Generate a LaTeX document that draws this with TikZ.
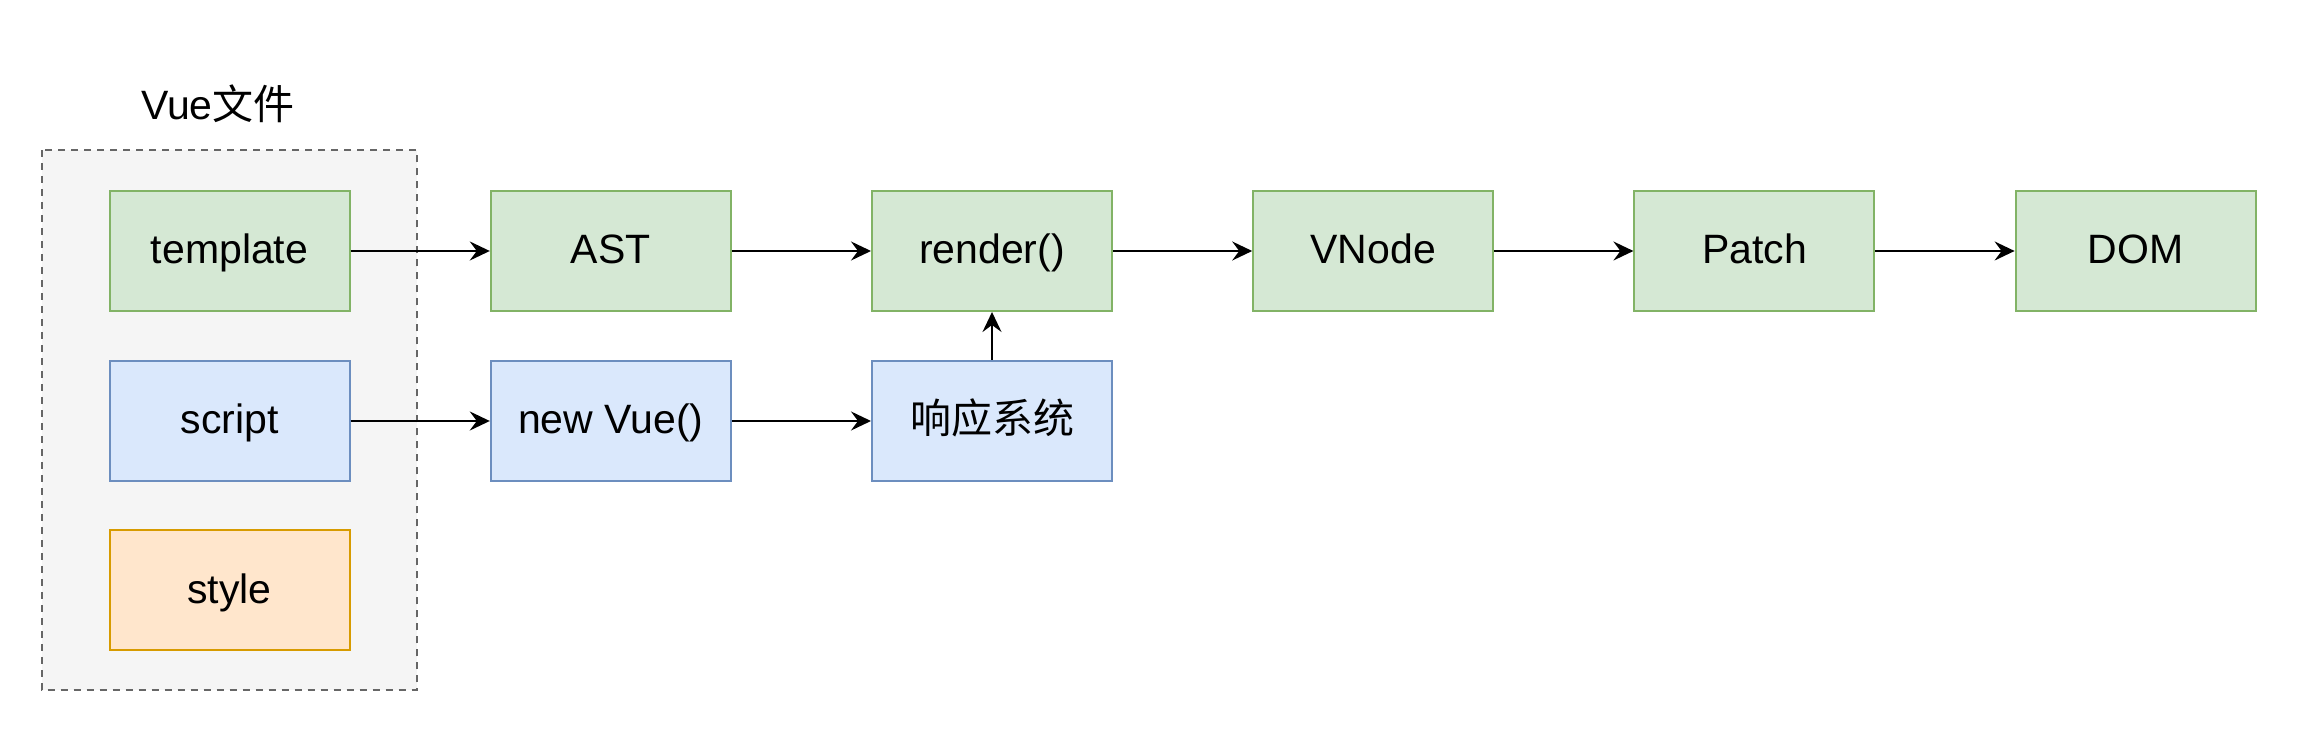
\documentclass[tikz,border=0pt]{standalone}
\usepackage{fontspec}
\setmainfont{Liberation Sans}
\newfontfamily\cjk{Noto Sans CJK SC}
\usetikzlibrary{arrows.meta}
\definecolor{gfill}{HTML}{D5E8D4}
\definecolor{gline}{HTML}{82B366}
\definecolor{bfill}{HTML}{DAE8FC}
\definecolor{bline}{HTML}{6C8EBF}
\definecolor{ofill}{HTML}{FFE6CC}
\definecolor{oline}{HTML}{D79B00}
\definecolor{cfill}{HTML}{F5F5F5}
\definecolor{cline}{HTML}{666666}
\begin{document}
\begin{tikzpicture}[x=0.5pt,y=-0.5pt,
  box/.style={draw, line width=1pt, minimum width=120pt, minimum height=60pt, inner sep=0pt, text height=17pt, text depth=4pt, font=\fontsize{20.5}{24}\selectfont},
  gbox/.style={box, fill=gfill, draw=gline},
  bbox/.style={box, fill=bfill, draw=bline},
  obox/.style={box, fill=ofill, draw=oline},
  conn/.style={line width=1pt, -{Stealth[length=10pt,width=9.5pt,inset=3.5pt]}}]
\useasboundingbox (0,0) rectangle (2323,747);
\draw[fill=cfill, draw=cline, line width=1pt, dash pattern=on 3.5pt off 3pt] (41.5,150.5) rectangle (416.5,690.5);
\node[font=\fontsize{20.5}{24}\selectfont] (title) at (218,104) {Vue{\cjk 文件}};
\node[gbox] (template) at (229.5,251) {template};
\node[gbox] (ast) at (610.8,251) {AST};
\node[gbox] (render) at (992,251) {render()};
\node[gbox] (vnode) at (1373.2,251) {VNode};
\node[gbox] (patch) at (1754.4,251) {Patch};
\node[gbox] (dom) at (2135.6,251) {DOM};
\node[bbox] (script) at (229.5,421) {script};
\node[bbox] (newvue) at (610.8,421) {new Vue()};
\node[bbox] (resp) at (992,421) {\cjk 响应系统};
\node[obox] (style) at (229.5,590.5) {style};
\draw[conn] (template) -- (ast);
\draw[conn] (ast) -- (render);
\draw[conn] (render) -- (vnode);
\draw[conn] (vnode) -- (patch);
\draw[conn] (patch) -- (dom);
\draw[conn] (script) -- (newvue);
\draw[conn] (newvue) -- (resp);
\draw[conn] (resp) -- (render);
\end{tikzpicture}
\end{document}
